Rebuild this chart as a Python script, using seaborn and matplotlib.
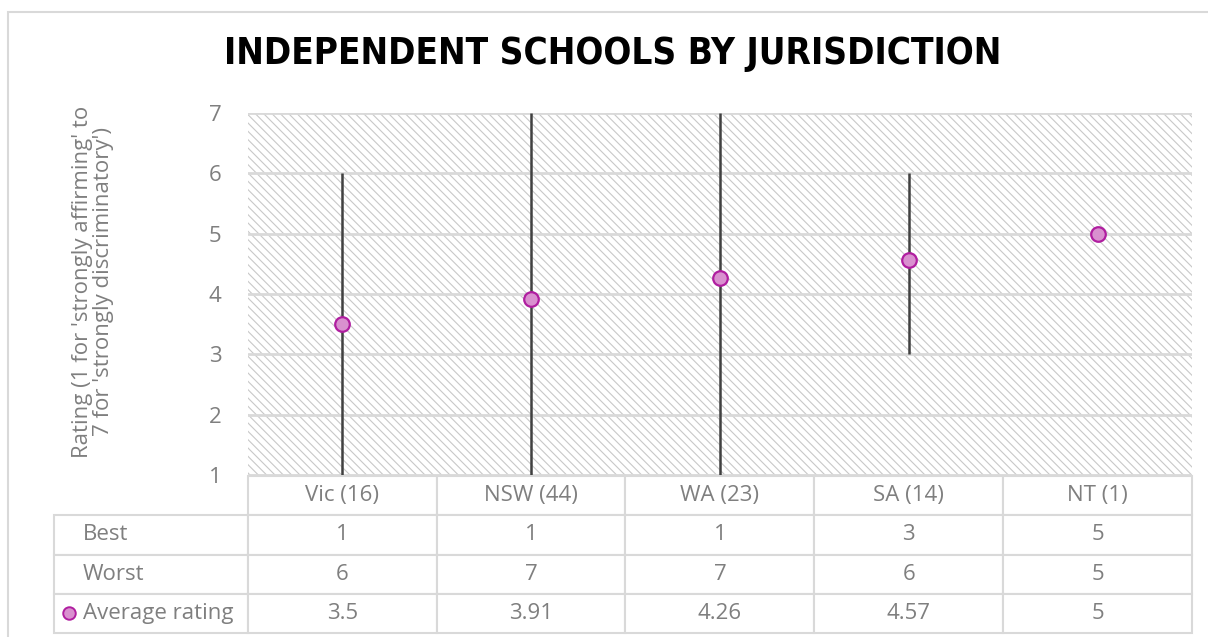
import matplotlib
matplotlib.use("Agg")
import matplotlib.pyplot as plt
import seaborn as sns
import pandas as pd
from matplotlib.patches import Rectangle
from matplotlib.table import Table

jurisdictions = ["Vic (16)", "NSW (44)", "WA (23)", "SA (14)", "NT (1)"]
best = [1, 1, 1, 3, 5]
worst = [6, 7, 7, 6, 5]
average = [3.5, 3.91, 4.26, 4.57, 5]
average_labels = ["3.5", "3.91", "4.26", "4.57", "5"]
row_names = ["Best", "Worst", "Average rating"]

df = pd.DataFrame({"jurisdiction": jurisdictions, "best": best,
                   "worst": worst, "average": average})

sns.set_theme(style="white")
plt.rcParams["font.family"] = ["Open Sans", "DejaVu Sans"]
plt.rcParams["hatch.linewidth"] = 0.8

grey = "#7f7f7f"
grid_grey = "#d9d9d9"
fill_pink = "#d990cf"
edge_purple = "#b01ea0"
fs = 16

W, H = 1208, 637
fig = plt.figure(figsize=(W / 100, H / 100), dpi=100)
ax = fig.add_axes([248 / W, 1 - 475 / H, 944 / W, 362 / H])

# hatched plot background
ax.add_patch(Rectangle((0, 0), 1, 1, transform=ax.transAxes, facecolor="white",
                       edgecolor="#c8c8c8", linewidth=0, hatch="\\\\\\\\", zorder=0))
ax.set_axisbelow(True)
ax.yaxis.grid(True, color=grid_grey, linewidth=2)

# best-worst range
ax.vlines(df.index, df["best"], df["worst"], color="#404040", linewidth=1.8, zorder=2)
sns.scatterplot(data=df, x="jurisdiction", y="average", ax=ax, s=110,
                color=fill_pink, edgecolor=edge_purple, linewidth=1.6, zorder=3)

ax.set_xlim(-0.5, len(jurisdictions) - 0.5)
ax.set_ylim(1, 7)
ax.set_yticks(range(1, 8))
ax.set_xticks([])
ax.set_xlabel("")
ax.set_ylabel("")
ax.tick_params(axis="y", length=0, pad=19, labelsize=fs, labelcolor=grey)
for s in ax.spines.values():
    s.set_visible(False)

# data table underneath
cell_text = [[str(v) for v in best], [str(v) for v in worst], average_labels]
col_w = 189 / 944
lab_w = 194 / 944
row_h = 1 / 4
tbl = Table(ax, bbox=[-lab_w, -158 / 362, 1 + lab_w, 157 / 362])
for c, name in enumerate(jurisdictions):
    tbl.add_cell(0, c + 1, col_w, row_h, text=name, loc="center")
for r, (name, vals) in enumerate(zip(row_names, cell_text), start=1):
    cell = tbl.add_cell(r, 0, lab_w, row_h, text=name, loc="left")
    cell.PAD = 0.15
    for c, v in enumerate(vals):
        tbl.add_cell(r, c + 1, col_w, row_h, text=v, loc="center")
tbl.auto_set_font_size(False)
tbl.set_fontsize(fs)
for (r, c), cell in tbl.get_celld().items():
    cell.set_edgecolor(grid_grey)
    cell.set_linewidth(1.5)
    cell.get_text().set_color(grey)
ax.add_table(tbl)

ax.plot([69 / W], [1 - 613 / H], transform=fig.transFigure, marker="o",
        markersize=9, markerfacecolor=fill_pink, markeredgecolor=edge_purple,
        markeredgewidth=1.4, linestyle="none", clip_on=False)

fig.text(93 / W, 1 - 282 / H,
         "Rating (1 for 'strongly affirming' to\n7 for 'strongly discriminatory')",
         rotation=90, ha="center", va="center", multialignment="center",
         fontsize=fs, color=grey, linespacing=0.95)

fig.text(613 / W, 1 - 54 / H, "INDEPENDENT SCHOOLS BY JURISDICTION",
         ha="center", va="center", fontsize=26.5, fontweight="heavy",
         fontstretch="condensed", family="DejaVu Sans", color="black")

fig.patches.append(Rectangle((8 / W, -0.05), 1.2, 1 - 12 / H + 0.05,
                             transform=fig.transFigure, fill=False,
                             edgecolor=grid_grey, linewidth=1.5))

fig.savefig("out.png", dpi=100)
